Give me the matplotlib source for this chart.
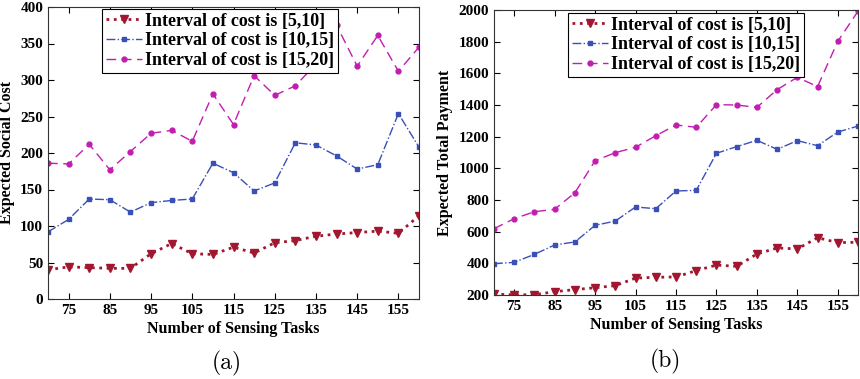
import numpy as np
import matplotlib.pyplot as plt

# number of sensing tasks
tasks = [70, 75, 80, 85, 90, 95, 100, 105, 110, 115, 120, 125, 130, 135, 140, 145, 150, 155, 160]
tick_vals = [75, 85, 95, 105, 115, 125, 135, 145, 155]

# (a) expected social cost
cost_5_10 = [40, 44, 43, 42, 42, 62, 76, 62, 61, 71, 63, 77, 80, 86, 89, 91, 93, 90, 114]
cost_10_15 = [92, 109, 137, 136, 119, 132, 135, 137, 186, 173, 148, 159, 214, 211, 196, 178, 184, 254, 208]
cost_15_20 = [186, 185, 212, 177, 202, 227, 231, 216, 281, 239, 306, 279, 292, 322, 375, 319, 361, 312, 345]

# (b) expected total payment
pay_5_10 = [206, 201, 202, 221, 234, 246, 259, 307, 312, 314, 354, 389, 381, 459, 497, 491, 562, 531, 533]
pay_10_15 = [398, 406, 457, 516, 535, 640, 667, 756, 745, 857, 861, 1095, 1137, 1177, 1120, 1175, 1143, 1229, 1267]
pay_15_20 = [619, 682, 726, 741, 846, 1048, 1099, 1133, 1206, 1274, 1259, 1402, 1400, 1385, 1497, 1575, 1516, 1802, 1992]

labels = ['Interval of cost is [5,10]', 'Interval of cost is [10,15]', 'Interval of cost is [15,20]']

red = '#A2172F'
blue = '#3A4FB8'
magenta = '#C21DB0'

plt.rcParams['font.family'] = ['Liberation Serif', 'DejaVu Serif']
plt.rcParams['font.weight'] = 'bold'

fig = plt.figure(figsize=(8.6, 3.79), dpi=100)
W, H = 860, 379
ax1 = fig.add_axes([48 / W, 1 - 299 / H, (419 - 48) / W, (299 - 7) / H])
ax2 = fig.add_axes([494 / W, 1 - 295 / H, (858 - 494) / W, (295 - 10) / H])


def draw(ax, s1, s2, s3, ylim, yticks, ylabel, legend_anchor):
    ax.plot(tasks, s1, linestyle=':', color=red, lw=2.0, marker='v', ms=5.5, label=labels[0])
    ax.plot(tasks, s2, linestyle='-.', color=blue, lw=1.0, marker='s', ms=3, label=labels[1])
    ax.plot(tasks, s3, linestyle=(0, (7, 4)), color=magenta, lw=1.0, marker='o', ms=3.5, label=labels[2])
    ax.set_xlim(70, 160)
    ax.set_ylim(*ylim)
    ax.set_xticks(tick_vals)
    ax.set_yticks(yticks)
    ax.tick_params(direction='in', top=True, right=True, labelsize=11, length=4, width=0.8)
    for lab in ax.get_xticklabels() + ax.get_yticklabels():
        lab.set_fontweight('bold')
    ax.set_xlabel('Number of Sensing Tasks', fontsize=11.5, fontweight='bold', labelpad=3)
    ax.set_ylabel(ylabel, fontsize=11.5, fontweight='bold', labelpad=4)
    for sp in ax.spines.values():
        sp.set_color('#333333')
        sp.set_linewidth(0.8)
    leg = ax.legend(loc='upper left', bbox_to_anchor=legend_anchor, fontsize=13,
                    frameon=True, fancybox=False, edgecolor='black', framealpha=1,
                    handlelength=2.0, handletextpad=0.2, borderpad=0.2, labelspacing=0.15,
                    borderaxespad=0)
    leg.get_frame().set_linewidth(0.8)


draw(ax1, cost_5_10, cost_10_15, cost_15_20, (0, 400), np.arange(0, 401, 50),
     'Expected Social Cost', ((102 - 48) / (419 - 48), 1 - (9 - 7) / (299 - 7)))
draw(ax2, pay_5_10, pay_10_15, pay_15_20, (200, 2000), np.arange(200, 2001, 200),
     'Expected Total Payment', ((568 - 494) / (858 - 494), 1 - (13 - 10) / (295 - 10)))

fig.text(227 / W, 1 - 363 / H, '(a)', fontsize=17, family='cmr10', fontweight='normal',
         ha='center', va='center')
fig.text(665 / W, 1 - 361 / H, '(b)', fontsize=17, family='cmr10', fontweight='normal',
         ha='center', va='center')

fig.savefig('out.png', dpi=100)
